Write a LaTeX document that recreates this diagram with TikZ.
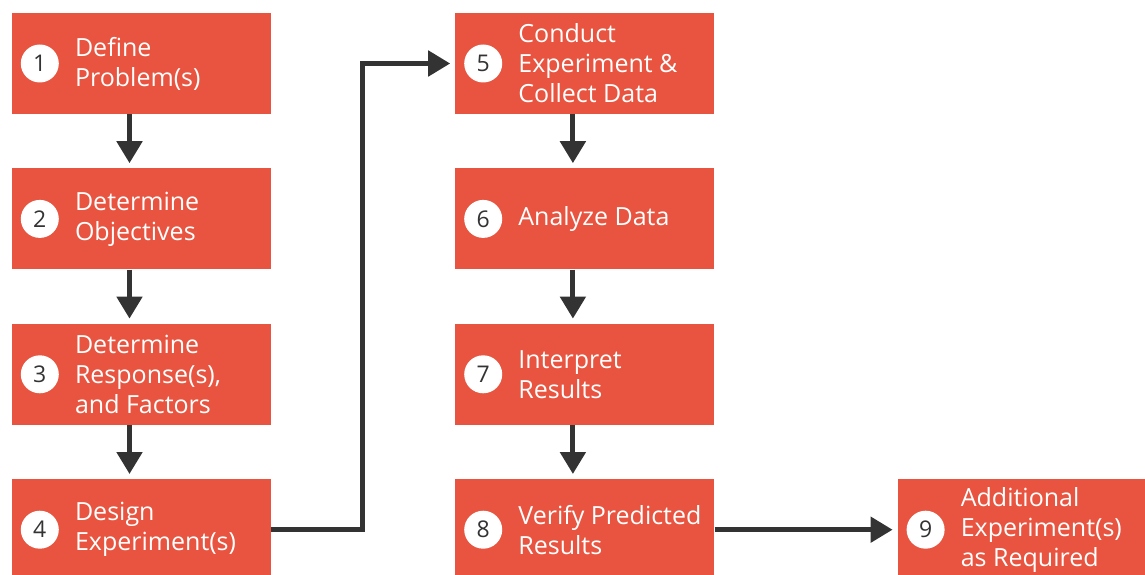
\documentclass[tikz,border=0pt]{standalone}
\usepackage{fontspec}
\setmainfont{Open Sans}
\usetikzlibrary{positioning,arrows.meta}
\definecolor{stagered}{HTML}{E8543F}
\definecolor{flowgray}{HTML}{333333}
\tikzset{
  stage/.style={rectangle, fill=stagered, minimum width=259pt, minimum height=101pt, inner sep=0pt},
  num/.style={circle, fill=white, minimum size=38pt, inner sep=0pt, text=flowgray, font=\fontsize{23}{23}\selectfont},
  stagetext/.style={anchor=west, align=left, inner sep=0pt, text=white, font=\fontsize{25}{30}\selectfont},
  flow/.style={draw=flowgray, line width=5pt, -{Triangle[width=25pt,length=22pt]}, shorten >=5pt}
}
\begin{document}
\begin{tikzpicture}
    [node distance=54pt and 184pt]

    \useasboundingbox (0,0) rectangle (1145pt,-575pt);

    % left column
    \node[stage] (s1) at (141.5pt,-63.5pt) {};
    \node[stage, below=of s1] (s2) {};
    \node[stage, below=of s2] (s3) {};
    \node[stage, below=of s3] (s4) {};

    % middle column
    \node[stage, right=of s1] (s5) {};
    \node[stage, below=of s5] (s6) {};
    \node[stage, below=of s6] (s7) {};
    \node[stage, below=of s7] (s8) {};

    \node[stage, right=183pt of s8] (s9) {};

    % numbers and texts
    \foreach \i/\txt in {1/{Define\\Problem(s)},
                         2/{Determine\\Objectives},
                         3/{Determine\\Response(s),\\and Factors},
                         4/{Design\\Experiment(s)},
                         5/{Conduct\\Experiment \&\\Collect Data},
                         6/{Analyze Data},
                         7/{Interpret\\Results},
                         8/{Verify Predicted\\Results},
                         9/{Additional\\Experiment(s)\\as Required}}
    {
      \node[num] (n\i) at ([xshift=28pt]s\i.west) {\i};
      \node[stagetext] (t\i) at ([xshift=63pt]s\i.west) {\txt};
    }

    % arrows sit a bit left of the box centre
    \foreach \a/\b in {1/2, 2/3, 3/4, 5/6, 6/7, 7/8}
      \draw[flow] ([xshift=-12pt]s\a.south) -- ([xshift=-12pt]s\b.north);
    \draw[flow] (s4.east) -- ++(91pt,0) |- (s5.west);
    \draw[flow] (s8) -- (s9);

\end{tikzpicture}
\end{document}
